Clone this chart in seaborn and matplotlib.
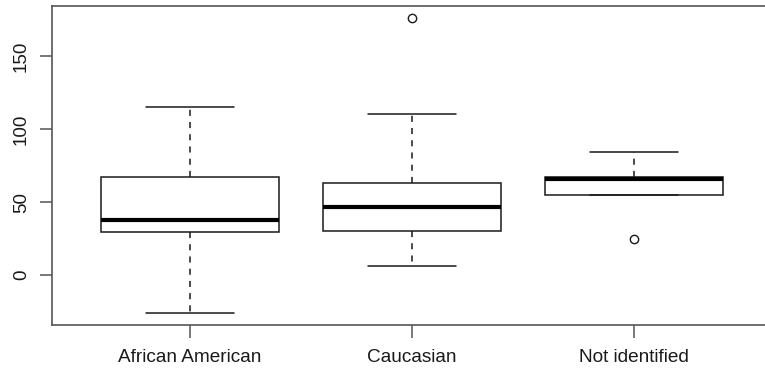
import matplotlib
matplotlib.use("Agg")
import matplotlib.pyplot as plt
import seaborn as sns
import pandas as pd

# Samples per group (five-number summaries plus outliers)
african_american = [-26, 29.3, 37.5, 66.8, 115]
caucasian = [6, 30, 30, 46.4, 46.4, 62.7, 62.7, 110.5, 176]
not_identified = [24.5, 54.6, 54.6, 66, 66, 67, 67, 84, 84]
groups = ["African American", "Caucasian", "Not identified"]
y_ticks = [0, 50, 100, 150]

df = pd.DataFrame({
    "group": [groups[0]] * len(african_american)
    + [groups[1]] * len(caucasian)
    + [groups[2]] * len(not_identified),
    "value": african_american + caucasian + not_identified,
})

sns.set_style("ticks")
plt.rcParams["font.family"] = ["Liberation Sans", "DejaVu Sans"]

fig = plt.figure(figsize=(7.65, 3.73), dpi=100)
ax = fig.add_axes([52 / 765, 1 - 325 / 373, 720 / 765, 319 / 373])

line_c = "#1a1a1a"
sns.boxplot(
    data=df, x="group", y="value", order=groups, ax=ax,
    width=0.8, whis=1.5, color="white", fill=True,
    linecolor=line_c, linewidth=1.1,
    boxprops=dict(facecolor="white", edgecolor=line_c, linewidth=1.1),
    whiskerprops=dict(color=line_c, linestyle=(0, (4, 4)), linewidth=1.1),
    capprops=dict(color=line_c, linewidth=1.1),
    medianprops=dict(color="black", linewidth=3),
    flierprops=dict(marker="o", markersize=6, markerfacecolor="white",
                    markeredgecolor=line_c, markeredgewidth=1.0),
)

ax.set_xlim(-0.6216, 2.6216)
ax.set_ylim(-34.08, 184.08)
ax.set_yticks(y_ticks)
ax.set_yticklabels([str(t) for t in y_ticks], rotation=90, va="center",
                   fontsize=13.5, color="#1a1a1a")
ax.set_xticks(range(len(groups)))
ax.set_xticklabels(groups, fontsize=13.7, color="#1a1a1a")
ax.set_xlabel("")
ax.set_ylabel("")

for s in ax.spines.values():
    s.set_visible(True)
    s.set_color("#555555")
    s.set_linewidth(1.2)

ax.tick_params(axis="both", which="both", direction="out", length=9,
               width=1.1, color="#555555", bottom=True, left=True,
               top=False, right=False)
ax.tick_params(axis="x", pad=8)
ax.tick_params(axis="y", pad=7)

fig.savefig("out.png", dpi=100, facecolor="white")
